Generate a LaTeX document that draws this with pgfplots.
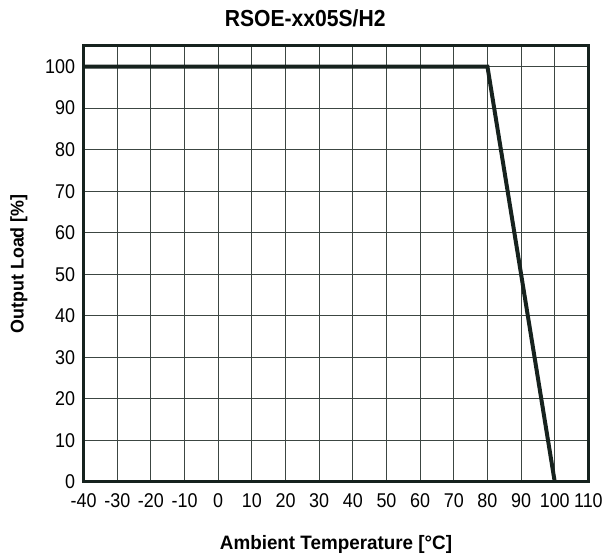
\documentclass[border=0pt]{standalone}
\usepackage{fontspec}
\setmainfont{Liberation Sans}[FakeStretch=0.97]
\newfontfamily\tickfont{Liberation Sans}[FakeStretch=0.9]
\newfontfamily\titlefont{Liberation Sans}[FakeStretch=0.91]
\usepackage{pgfplots}
\pgfplotsset{compat=1.18}
\definecolor{lineclr}{RGB}{22,34,30}
\definecolor{gridclr}{RGB}{60,70,66}
\begin{document}
\begin{tikzpicture}
\begin{axis}[
    scale only axis,
    width=507pt, height=438pt,
    xmin=-40, xmax=110,
    ymin=0, ymax=105,
    xtick={-40,-30,...,110},
    ytick={0,10,...,100},
    grid=major,
    major grid style={gridclr, line width=1pt},
    major tick length=0pt,
    axis line style={lineclr, line width=3.2pt},
    tick label style={font=\tickfont\fontsize{20}{22}\selectfont},
    /pgf/number format/assume math mode=true,
    xticklabel style={yshift=-8pt},
    yticklabel style={xshift=-5pt},
    title={\bfseries RSOE-xx05S/H2},
    title style={font=\titlefont\fontsize{23.3}{26}\selectfont, at={(0.5,1)}, anchor=center, yshift=22pt, xshift=-31pt},
    xlabel={\bfseries Ambient Temperature [°C]},
    xlabel style={font=\fontsize{19.5}{22}\selectfont, at={(0.5,0)}, anchor=center, yshift=-63pt},
    ylabel={\bfseries Output Load [\%]},
    ylabel style={font=\fontsize{18.5}{22}\selectfont, at={(0,0.5)}, anchor=center, yshift=65pt},
]
\addplot[lineclr, line width=4pt, line join=miter] coordinates {
    (-40,100) (80,100) (100,0)
};
\end{axis}
\useasboundingbox ([shift={(-84pt,-76pt)}]current axis.south west) rectangle ([shift={(15pt,46pt)}]current axis.north east);
\end{tikzpicture}
\end{document}
